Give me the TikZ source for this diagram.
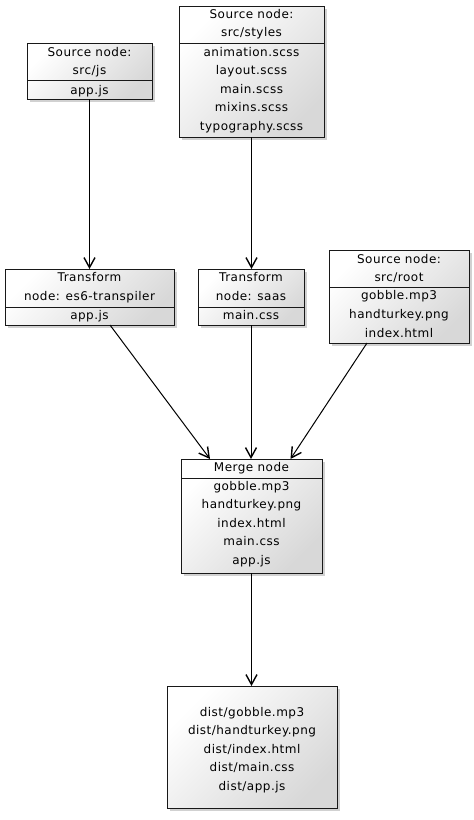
\documentclass[tikz,border=0pt]{standalone}
\usepackage{fontspec}
\setmainfont{DejaVu Sans}[LetterSpace=4]
\usetikzlibrary{arrows.meta,shadows}
\definecolor{bordercol}{HTML}{181818}
\definecolor{shadecol}{HTML}{D8D8D8}
\tikzset{
  box/.style={draw=bordercol, line width=1pt, inner sep=0pt, outer sep=0pt,
    top color=white, bottom color=shadecol, shading angle=45,
    drop shadow={shadow xshift=3pt, shadow yshift=-3pt, fill=black!30, opacity=.6}},
  lbl/.style={anchor=base, inner sep=0pt, font=\fontsize{12}{14}\selectfont},
  divline/.style={draw=bordercol, line width=1pt},
  arr/.style={draw=black, line width=1pt, -{Straight Barb[length=10pt,width=11pt,line width=1.4pt]}}
}
\begin{document}
\begin{tikzpicture}[x=1pt,y=-1pt]
\useasboundingbox (0,0) rectangle (474,820);
% boxes
\node[box, minimum width=125, minimum height=56] (js) at (89.5,71) {};
\node[box, minimum width=145, minimum height=131] (styles) at (251.5,71.5) {};
\node[box, minimum width=169, minimum height=56] (es6) at (89.5,297) {};
\node[box, minimum width=106, minimum height=56] (saas) at (251,297) {};
\node[box, minimum width=140, minimum height=93] (root) at (399,296.5) {};
\node[box, minimum width=141, minimum height=114] (merge) at (251.5,516) {};
\node[box, minimum width=170, minimum height=122] (dist) at (252,747) {};
% dividers
\draw[divline] (js.west |- 0,80) -- (js.east |- 0,80);
\draw[divline] (styles.west |- 0,43) -- (styles.east |- 0,43);
\draw[divline] (es6.west |- 0,307) -- (es6.east |- 0,307);
\draw[divline] (saas.west |- 0,307) -- (saas.east |- 0,307);
\draw[divline] (root.west |- 0,287) -- (root.east |- 0,287);
\draw[divline] (merge.west |- 0,478) -- (merge.east |- 0,478);
% texts: src/js
\node[lbl] (js1) at (89.5,56) {Source node:};
\node[lbl] (js2) at (89.5,74) {src/js};
\node[lbl] (js3) at (89.5,94) {app.js};
% src/styles
\node[lbl] (st1) at (251.5,18) {Source node:};
\node[lbl] (st2) at (251.5,36) {src/styles};
\node[lbl] (st3) at (251.5,56) {animation.scss};
\node[lbl] (st4) at (251.5,74.5) {layout.scss};
\node[lbl] (st5) at (251.5,93) {main.scss};
\node[lbl] (st6) at (251.5,111.5) {mixins.scss};
\node[lbl] (st7) at (251.5,130) {typography.scss};
% es6
\node[lbl] (es1) at (89.5,281) {Transform};
\node[lbl] (es2) at (89.5,300) {node: es6-transpiler};
\node[lbl] (es3) at (89.5,319) {app.js};
% saas
\node[lbl] (sa1) at (251,281) {Transform};
\node[lbl] (sa2) at (251,300) {node: saas};
\node[lbl] (sa3) at (251,319) {main.css};
% root
\node[lbl] (ro1) at (399,263) {Source node:};
\node[lbl] (ro2) at (399,281) {src/root};
\node[lbl] (ro3) at (399,299.5) {gobble.mp3};
\node[lbl] (ro4) at (399,318) {handturkey.png};
\node[lbl] (ro5) at (399,337) {index.html};
% merge
\node[lbl] (me1) at (251.5,471) {Merge node};
\node[lbl] (me2) at (251.5,490) {gobble.mp3};
\node[lbl] (me3) at (251.5,508.5) {handturkey.png};
\node[lbl] (me4) at (251.5,527) {index.html};
\node[lbl] (me5) at (251.5,545.5) {main.css};
\node[lbl] (me6) at (251.5,564) {app.js};
% dist
\node[lbl] (di1) at (252,716) {dist/gobble.mp3};
\node[lbl] (di2) at (252,734.5) {dist/handturkey.png};
\node[lbl] (di3) at (252,753) {dist/index.html};
\node[lbl] (di4) at (252,771.5) {dist/main.css};
\node[lbl] (di5) at (252,790) {dist/app.js};
% arrows
\draw[arr] (js.south) -- (es6.north);
\draw[arr] (styles.south) -- (styles.south |- saas.north);
\draw[arr] ([xshift=20.5pt]es6.south) -- ([xshift=-41.5pt]merge.north);
\draw[arr] (saas.south) -- (saas.south |- merge.north);
\draw[arr] ([xshift=-32pt]root.south) -- ([xshift=39pt]merge.north);
\draw[arr] (merge.south) -- (merge.south |- dist.north);
\end{tikzpicture}
\end{document}
